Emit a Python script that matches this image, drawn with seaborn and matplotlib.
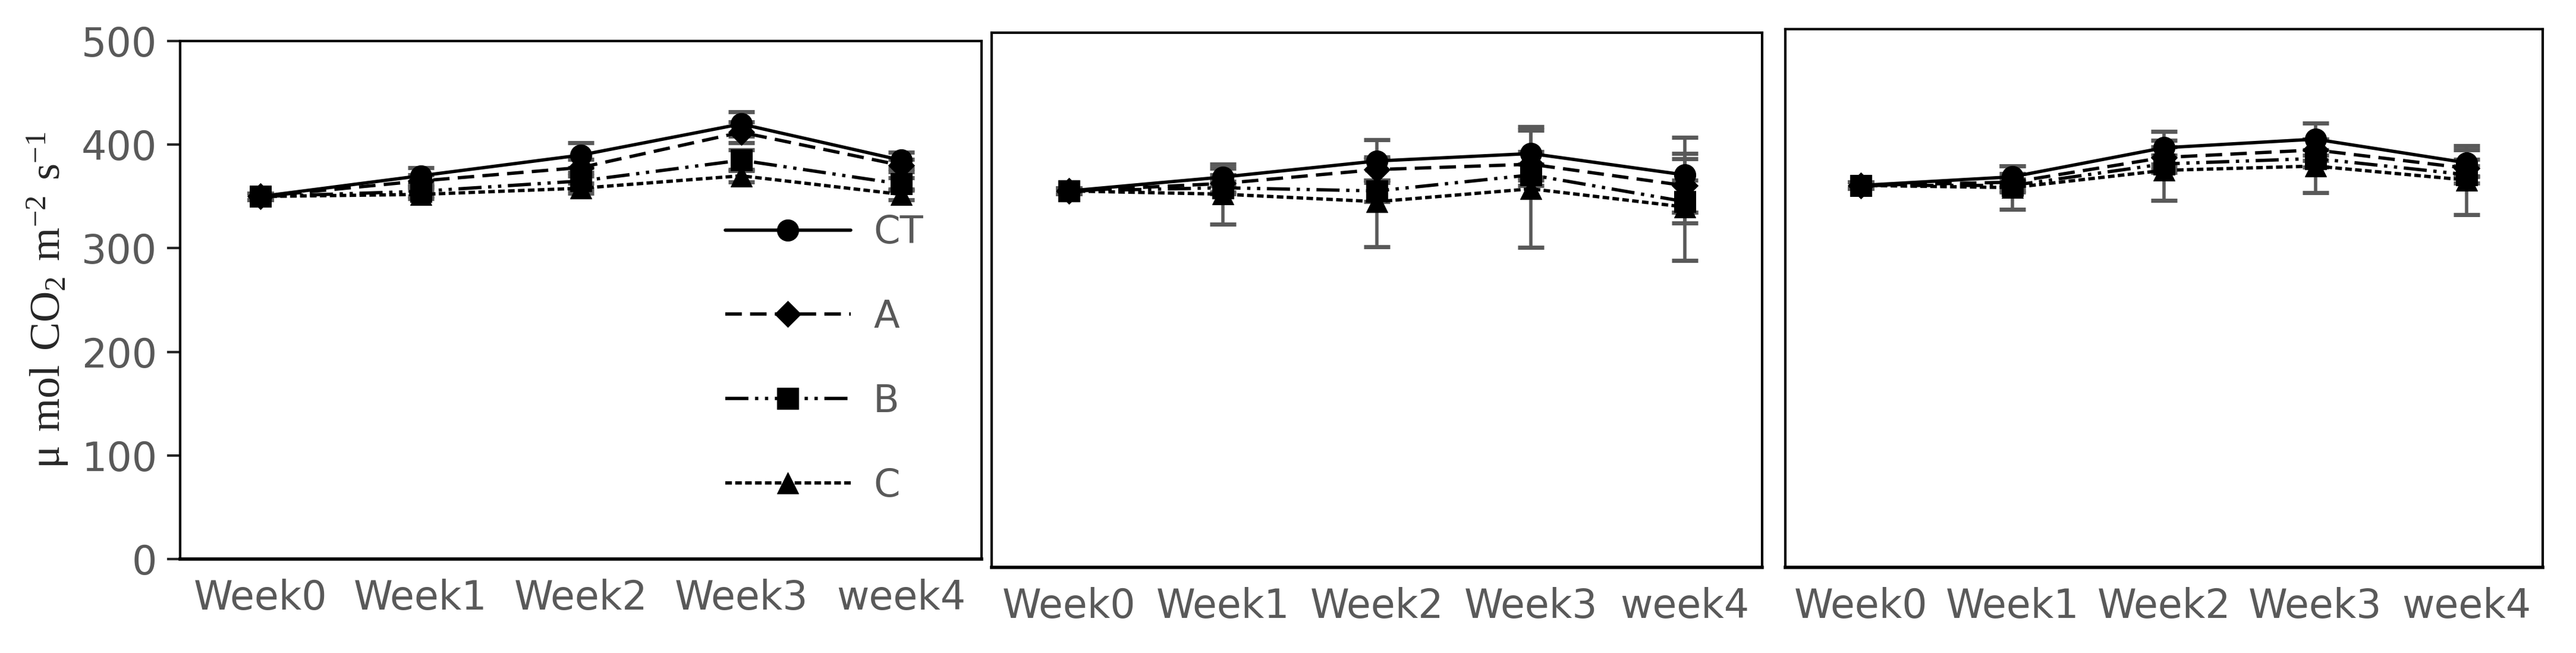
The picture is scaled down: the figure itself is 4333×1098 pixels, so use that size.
import numpy as np
import pandas as pd
import matplotlib.pyplot as plt
import seaborn as sns

weeks = ["Week0", "Week1", "Week2", "Week3", "week4"]
series = ["CT", "A", "B", "C"]

# mean values per panel (rows: CT, A, B, C)
p1_vals = [[350, 370, 390, 420, 385],
           [350, 365, 378, 412, 380],
           [350, 355, 365, 385, 362],
           [350, 352, 358, 370, 352]]
p1_err = [[3, 8, 12, 12, 8],
          [3, 6, 8, 10, 6],
          [3, 5, 8, 10, 6],
          [3, 4, 5, 6, 5]]
p2_vals = [[352, 365, 380, 387, 367],
           [352, 359, 372, 377, 357],
           [352, 355, 352, 367, 342],
           [352, 349, 342, 354, 337]]
p2_err = [[3, 8, 20, 25, 35],
          [3, 8, 10, 12, 25],
          [3, 6, 10, 10, 20],
          [3, 28, 42, 55, 50]]
p3_vals = [[355, 363, 390, 398, 376],
           [355, 358, 381, 388, 371],
           [355, 355, 375, 380, 365],
           [355, 353, 369, 373, 360]]
p3_err = [[3, 10, 15, 15, 12],
          [3, 8, 10, 10, 8],
          [3, 6, 8, 8, 8],
          [3, 20, 28, 25, 32]]

styles = {"CT": ("-", "o"), "A": ((0, (5, 2.5)), "D"),
          "B": ((0, (7, 2, 1, 2, 1, 2)), "s"), "C": ((0, (2, 1)), "^")}
grey = "#595959"

sns.set_style("white")
plt.rcParams['font.family'] = ['DejaVu Sans']

fig = plt.figure(figsize=(43.33, 10.98), dpi=100)
boxes = [[0.070, 0.144, 0.311, 0.793],
         [0.385, 0.131, 0.299, 0.819],
         [0.693, 0.131, 0.294, 0.824]]
panels = [(p1_vals, p1_err), (p2_vals, p2_err), (p3_vals, p3_err)]

for i, (vals, errs) in enumerate(panels):
    ax = fig.add_axes(boxes[i])
    x = np.arange(len(weeks))
    for s, v, e in zip(series, vals, errs):
        ls, mk = styles[s]
        ax.errorbar(x, v, yerr=e, fmt="none", ecolor=grey, elinewidth=4,
                    capsize=16, capthick=5, zorder=2)
        df = pd.DataFrame({"x": x, "y": v})
        sns.lineplot(data=df, x="x", y="y", ax=ax, color="black", linewidth=4,
                     linestyle=ls, marker=mk, markersize=26 if mk != "D" else 22,
                     markeredgecolor="black", label=s, zorder=3)
    ax.set_xlim(-0.5, 4.5)
    ax.set_ylim(0, 500)
    ax.set_xticks(x)
    ax.set_xticklabels(weeks)
    ax.set_xticks(np.arange(-0.5, 5, 1), minor=True)
    ax.tick_params(axis="x", which="major", length=0, pad=24, labelsize=48, labelcolor=grey)
    ax.tick_params(axis="x", which="minor", length=16, width=3, direction="out", color="black")
    ax.set_xlabel("")
    for sp in ax.spines.values():
        sp.set_color("black")
        sp.set_linewidth(3)
    ax.spines["bottom"].set_linewidth(4)
    if i == 0:
        ax.set_yticks([0, 100, 200, 300, 400, 500])
        ax.tick_params(axis="y", length=16, width=3, direction="out", left=True,
                       labelsize=48, labelcolor=grey, pad=12)
        ax.set_ylabel(r"$\mathregular{\mu\ mol\ CO_2\ m^{-2}\ s^{-1}}$",
                      fontsize=52, family="Liberation Serif", labelpad=14)
        leg = ax.legend(loc="lower right", bbox_to_anchor=(0.97, 0.04), frameon=False,
                        fontsize=46, labelspacing=1.25, handlelength=3.3,
                        handletextpad=0.6, markerscale=1.0)
        for t in leg.get_texts():
            t.set_color(grey)
    else:
        ax.set_yticks([])
        ax.set_ylabel("")
        ax.get_legend().remove()

fig.savefig("out.png", dpi=100, facecolor="white")
